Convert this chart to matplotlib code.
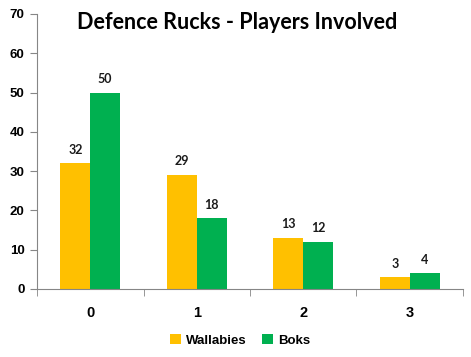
""" defence rucks - players involved """

import numpy as np
import matplotlib.pyplot as plt

OUT_FN = 'out.png'

categories = ['0', '1', '2', '3']
wallabies = [32, 29, 13, 3]
boks = [50, 18, 12, 4]
series_names = ['Wallabies', 'Boks']
colors = ['#FFC000', '#00B050']

fig = plt.figure(figsize=(4.71, 3.57), dpi=100)
ax = fig.add_axes([0.0786, 0.1905, 0.9044, 0.7705])

x = np.arange(len(categories))
w = 0.28
bars1 = ax.bar(x - w / 2, wallabies, w, color=colors[0], label=series_names[0])
bars2 = ax.bar(x + w / 2, boks, w, color=colors[1], label=series_names[1])

for bars in (bars1, bars2):
    for b in bars:
        ax.annotate(str(int(b.get_height())),
                    (b.get_x() + b.get_width() / 2, b.get_height()),
                    xytext=(0, 5.5), textcoords='offset points',
                    ha='center', va='bottom', fontsize=9,
                    fontweight='bold', family='Lato', color='#1a1a1a')

ax.set_xlim(-0.5, len(categories) - 0.5)
ax.set_ylim(0, 70)
ax.set_yticks(range(0, 71, 10))
ax.set_xticks(x)
ax.set_xticklabels(categories)
ax.set_xticks(np.arange(-0.5, len(categories)), minor=True)

for s in ['top', 'right']:
    ax.spines[s].set_visible(False)
for s in ['left', 'bottom']:
    ax.spines[s].set_color('#868686')

ax.tick_params(axis='y', length=5, color='#868686', labelsize=9.5, pad=4)
ax.tick_params(axis='x', which='major', length=0, labelsize=10.5, pad=12)
ax.tick_params(axis='x', which='minor', length=5, color='#868686')
for lab in ax.get_xticklabels() + ax.get_yticklabels():
    lab.set_fontweight('bold')
    lab.set_family('Liberation Sans')

fig.text(0.503, 0.936, 'Defence Rucks - Players Involved', ha='center',
         va='center', fontsize=15.5, fontweight='bold', family='Lato')

fig.legend(loc='center', bbox_to_anchor=(0.51, 0.046), ncol=2, frameon=False,
           handlelength=0.8, handleheight=0.8, handletextpad=0.4,
           columnspacing=1.2, prop={'family': 'Liberation Sans',
                                    'weight': 'bold', 'size': 9.5})

plt.savefig(OUT_FN)
